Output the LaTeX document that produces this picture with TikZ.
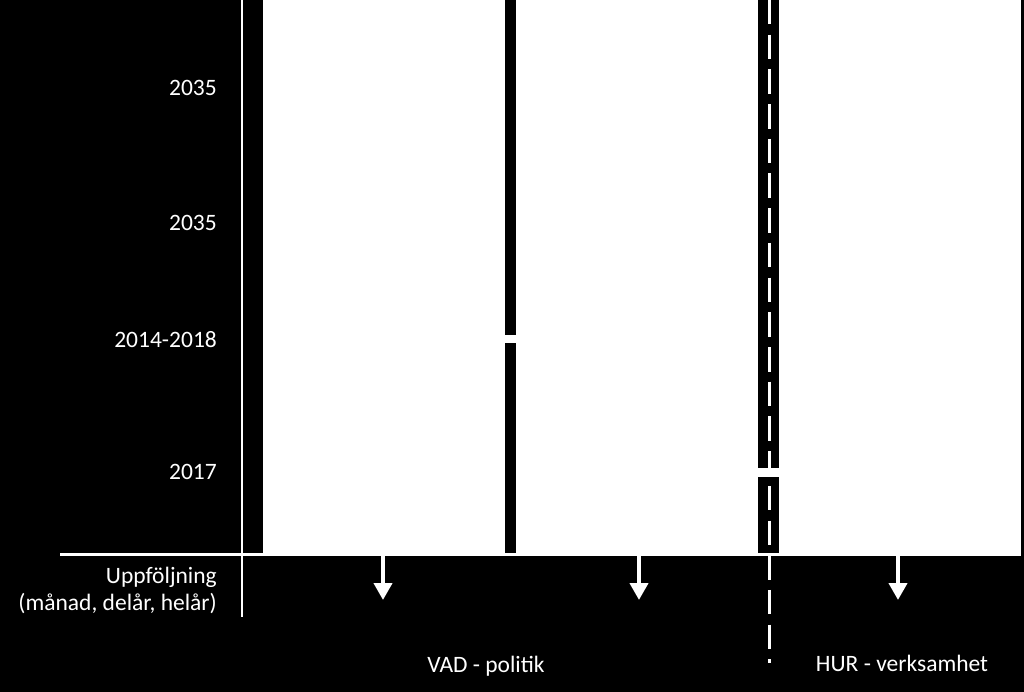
\documentclass[tikz,border=0pt]{standalone}
\usepackage{fontspec}
\setmainfont{Carlito}
\usepackage{tikz}
\usetikzlibrary{arrows.meta, positioning}
\tikzstyle{panel} = [fill=white]
\tikzstyle{year} = [text=white, anchor=base east, inner sep=0pt]
\tikzstyle{label} = [text=white, anchor=base, inner sep=0pt]
\tikzstyle{rule} = [draw=white, line width=3pt]
\tikzstyle{arrow} = [draw=white, line width=4pt, -{Triangle[width=18pt, length=17pt]}]

\begin{document}
\begin{tikzpicture}[x=1pt, y=-1pt, every node/.style={font=\fontsize{23.5}{27}\selectfont}]

\fill[black] (0,0) rectangle (1024,692);
\useasboundingbox (0,0) rectangle (1024,692);

% white fields
\fill [panel] (263,0) rectangle (505,553);
\fill [panel] (516,0) rectangle (758,553);
\fill [panel] (505,335) rectangle (516,343);
\fill [panel] (779,0) rectangle (1021,553);
\fill [panel] (758,468) rectangle (779,477);

% axes
\coordinate (top) at (242,0);
\coordinate (bot) at (242,617);
\coordinate (left) at (60,554);
\coordinate (right) at (1021,554);
\draw [rule, line width=2.5pt] (top) -- (bot);
\draw [rule] (left) -- (right);

% dashed divider
\coordinate (dtop) at (769,0);
\coordinate (dbot) at (769,663);
\draw [draw=white, line width=3pt, dash pattern=on 24.5pt off 10.2pt] (dtop) -- (dbot);

% years
\node (y1) [year] at (217,96) {2035};
\node (y2) [year] at (217,231) {2035};
\node (y3) [year] at (217,347) {2014-2018};
\node (y4) [year] at (217,479) {2017};
\node (up) [year] at (217,583) {Uppföljning};
\node (per) [year] at (217,610) {(månad, delår, helår)};

\node (vad) [label] at (486,672) {VAD - politik};
\node (hur) [label] at (902,671) {HUR - verksamhet};

% follow-up arrows
\coordinate (a1) at (383,555);
\coordinate (a2) at (639,555);
\coordinate (a3) at (898,555);
\coordinate (b1) at (383,600);
\coordinate (b2) at (639,600);
\coordinate (b3) at (898,600);
\draw [arrow] (a1) -- (b1);
\draw [arrow] (a2) -- (b2);
\draw [arrow] (a3) -- (b3);

\end{tikzpicture}
\end{document}
